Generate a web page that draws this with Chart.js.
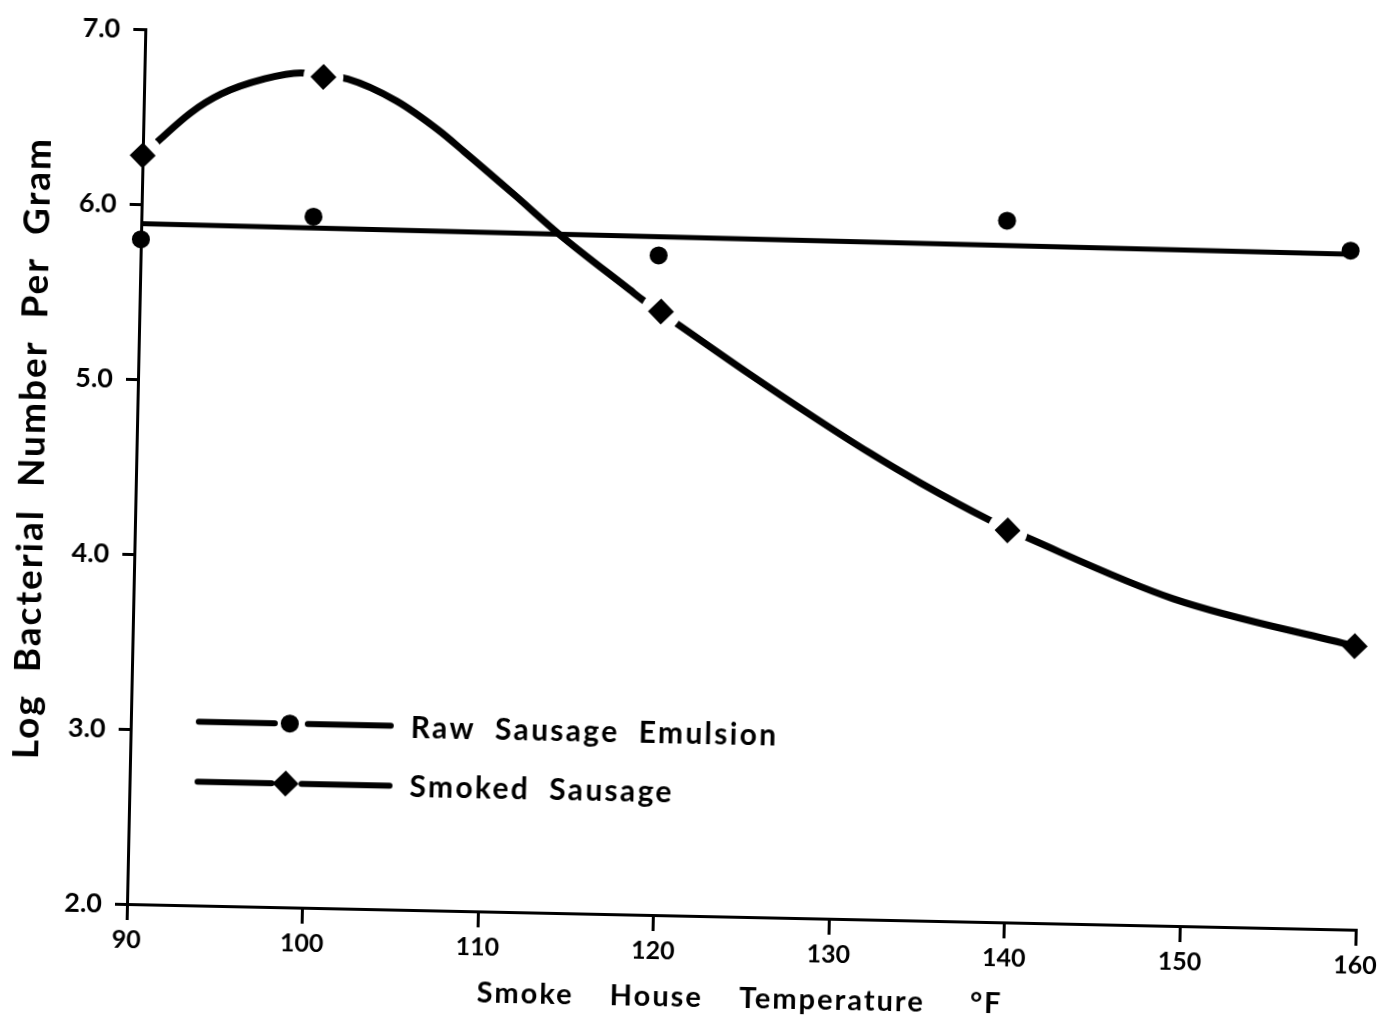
<!DOCTYPE html>
<html>
<head>
<meta charset="utf-8">
<title>Log Bacterial Number Per Gram vs Smoke House Temperature</title>
<script src="https://cdn.jsdelivr.net/npm/chart.js@4.4.1/dist/chart.umd.min.js"></script>
<style>
  html, body { margin: 0; padding: 0; background: #fff; overflow: hidden; }
  /* the scanned original sits about 1.2 degrees off square */
  #chart { display: block; transform: rotate(1.2deg); transform-origin: 127px 904px; }
</style>
</head>
<body>
<canvas id="chart" width="1388" height="1019"></canvas>
<script>
// smoke house temperature (F) where each marker sits on the figure
const rawTemps = [90.0, 99.8, 119.5, 139.3, 158.9];
const smokedTemps = [90.0, 100.2, 119.7, 139.7, 159.6];
// log bacterial number per gram
const rawEmulsion = [5.80, 5.95, 5.77, 6.01, 5.88];
const smokedSausage = [6.28, 6.75, 5.45, 4.24, 3.62];

// fitted line through the raw emulsion points
const rawFitX = [90, 159.0];
const rawFitY = [5.89, 5.86];

// hand drawn curve through the smoked sausage points
const smokedCurveX = [90, 92.7, 94.4, 96.8, 98.9, 101.6, 104.4, 106.8, 108.3, 111.2, 113.8,
                      117.9, 118.7, 120.8, 124.7, 128.6, 131.7, 134.7, 138.6, 141.1, 149.2, 159.6];
const smokedCurveY = [6.28, 6.53, 6.64, 6.73, 6.77, 6.74, 6.62, 6.46, 6.34, 6.10, 5.88,
                      5.57, 5.51, 5.37, 5.11, 4.86, 4.67, 4.50, 4.30, 4.19, 3.87, 3.62];

const xTicks = [90, 100, 110, 120, 130, 140, 150, 160];
const yTicks = [2, 3, 4, 5, 6, 7];

const seriesNames = ["Raw Sausage Emulsion", "Smoked Sausage"];
const xTitle = "Smoke House Temperature °F";
const yTitle = "Log Bacterial Number Per Gram";

const FONT = "Lato, 'Open Sans', sans-serif";

function spaced(text, n) {
    return text.split(" ").join(" ".repeat(n));
}

function points(xs, ys) {
    return xs.map((x, i) => ({ x: x, y: ys[i] }));
}

// titles get a little tracking, like the lettering on the original;
// tick labels (drawn later, ticks.z = 1) and the legend set their own
const sketchLegend = {
    id: "sketchLegend",
    beforeDraw(chart) {
        chart.ctx.letterSpacing = "2px";
    },
    afterDatasetsDraw(chart) {
        const ctx = chart.ctx;
        ctx.letterSpacing = "0px";
        const a = chart.chartArea;
        const rows = [
            { name: seriesNames[0], marker: "circle", y: a.top + 691, ty: a.top + 693,
              seg: [68, 144, 177, 260], mx: 159 },
            { name: seriesNames[1], marker: "diamond", y: a.top + 751, ty: a.top + 752,
              seg: [68, 142, 172, 260], mx: 156 }
        ];
        ctx.save();
        ctx.strokeStyle = "#000";
        ctx.fillStyle = "#000";
        ctx.lineWidth = 6;
        ctx.lineCap = "round";
        rows.forEach(r => {
            ctx.beginPath();
            ctx.moveTo(a.left + r.seg[0], r.y);
            ctx.lineTo(a.left + r.seg[1], r.y);
            ctx.moveTo(a.left + r.seg[2], r.y);
            ctx.lineTo(a.left + r.seg[3], r.y);
            ctx.stroke();
            const mx = a.left + r.mx;
            ctx.beginPath();
            if (r.marker === "circle") {
                ctx.arc(mx, r.y, 9, 0, Math.PI * 2);
            } else {
                ctx.moveTo(mx - 13, r.y);
                ctx.lineTo(mx, r.y - 13);
                ctx.lineTo(mx + 13, r.y);
                ctx.lineTo(mx, r.y + 13);
                ctx.closePath();
            }
            ctx.fill();
            ctx.font = "bold 30px " + FONT;
            ctx.textBaseline = "middle";
            ctx.textAlign = "left";
            ctx.letterSpacing = "2.3px";
            ctx.fillText(spaced(r.name, 2), a.left + 280, r.ty);
        });
        ctx.restore();
        ctx.letterSpacing = "0px";
    }
};

const canvas = document.getElementById("chart");
new Chart(canvas, {
    type: "line",
    data: {
        datasets: [
            {
                label: seriesNames[0],
                data: points(rawTemps, rawEmulsion),
                showLine: false,
                pointStyle: "circle",
                pointRadius: 9,
                pointBackgroundColor: "#000",
                pointBorderWidth: 0,
                clip: false,
                order: 0
            },
            {
                label: seriesNames[1],
                data: points(smokedTemps, smokedSausage),
                showLine: false,
                pointStyle: "rectRot",
                pointRadius: 13,
                pointBackgroundColor: "#000",
                pointBorderWidth: 0,
                clip: false,
                order: 1
            },
            {
                // white gap left round the smoked markers (not the last one)
                label: "gap",
                data: points(smokedTemps, smokedSausage),
                showLine: false,
                pointStyle: "circle",
                pointRadius: c => c.dataIndex < smokedTemps.length - 1 ? 20 : 0,
                pointBackgroundColor: "#fff",
                pointBorderWidth: 0,
                clip: { left: -2, top: false, right: false, bottom: false },
                order: 2
            },
            {
                label: "smoked curve",
                data: points(smokedCurveX, smokedCurveY),
                borderColor: "#000",
                borderWidth: 7,
                pointRadius: 0,
                cubicInterpolationMode: "monotone",
                fill: false,
                clip: false,
                order: 3
            },
            {
                label: "raw fit",
                data: points(rawFitX, rawFitY),
                borderColor: "#000",
                borderWidth: 5,
                pointRadius: 0,
                tension: 0,
                fill: false,
                clip: false,
                order: 4
            }
        ]
    },
    options: {
        responsive: false,
        devicePixelRatio: 1,
        animation: false,
        events: [],
        layout: { padding: { top: 26, right: 32, left: 0, bottom: 0 } },
        plugins: {
            legend: { display: false },
            tooltip: { enabled: false }
        },
        scales: {
            x: {
                type: "linear",
                min: 90,
                max: 160,
                afterBuildTicks: s => { s.ticks = xTicks.map(v => ({ value: v })); },
                afterFit: s => { s.height = 115; },
                border: { display: true, color: "#000", width: 3 },
                grid: { drawOnChartArea: false, drawTicks: true, tickLength: 16, color: "#000", lineWidth: 3 },
                ticks: {
                    z: 1,
                    color: "#000",
                    padding: 5,
                    maxRotation: 0,
                    font: { family: FONT, size: 25, weight: "bold" },
                    callback: v => String(v)
                },
                title: {
                    display: true,
                    text: spaced(xTitle, 4).replace(/ °F$/, "  °F"),
                    color: "#000",
                    font: { family: FONT, size: 29, weight: "bold" },
                    padding: { top: 0, bottom: 16 }
                }
            },
            y: {
                type: "linear",
                min: 2,
                max: 7,
                afterBuildTicks: s => { s.ticks = yTicks.map(v => ({ value: v })); },
                afterFit: s => { s.width = 127; },
                border: { display: true, color: "#000", width: 3 },
                grid: { drawOnChartArea: false, drawTicks: true, tickLength: 12, color: "#000", lineWidth: 3 },
                ticks: {
                    z: 1,
                    color: "#000",
                    padding: 13,
                    font: { family: FONT, size: 27, weight: "bold" },
                    callback: v => Number(v).toFixed(1)
                },
                title: {
                    display: true,
                    // leading spaces lift the title a little, as in the original
                    text: "   " + spaced(yTitle, 2),
                    color: "#000",
                    font: { family: FONT, size: 37, weight: "bold" },
                    padding: { top: 1, bottom: 0 }
                }
            }
        }
    },
    plugins: [sketchLegend]
});
</script>
</body>
</html>
